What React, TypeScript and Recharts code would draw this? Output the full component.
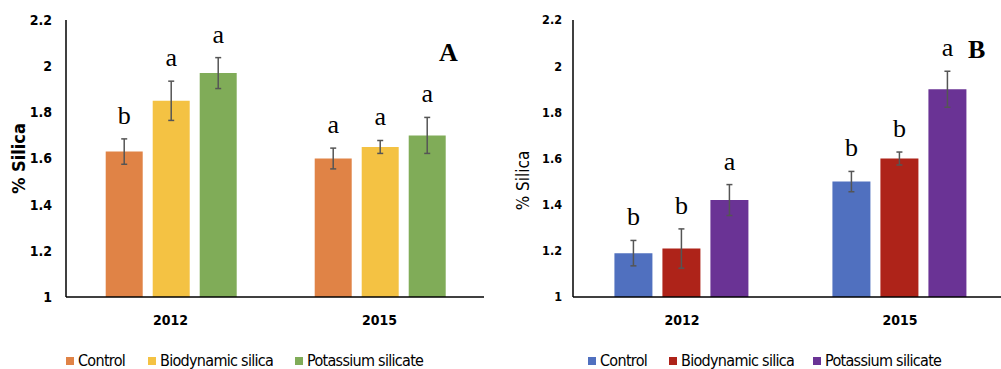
import React from "react";
import { Bar, BarChart, ErrorBar, LabelList, XAxis, YAxis } from "recharts";

// chart values
const years = ["2012", "2015"];
const treatments = ["Control", "Biodynamic silica", "Potassium silicate"];

const silicaA = [
	[1.63, 1.6],
	[1.85, 1.65],
	[1.97, 1.7],
];
const errorsA = [
	[0.055, 0.045],
	[0.085, 0.028],
	[0.067, 0.078],
];
const lettersA = [
	["b", "a"],
	["a", "a"],
	["a", "a"],
];

const silicaB = [
	[1.19, 1.5],
	[1.21, 1.6],
	[1.42, 1.9],
];
const errorsB = [
	[0.055, 0.044],
	[0.085, 0.028],
	[0.067, 0.078],
];
const lettersB = [
	["b", "b"],
	["b", "b"],
	["a", "a"],
];

const yTicks = [1, 1.2, 1.4, 1.6, 1.8, 2, 2.2];

const colorsA = ["#e08346", "#f4c243", "#80ac58"];
const colorsB = ["#5070bf", "#ae2319", "#6a3395"];

const sansFont = "'Liberation Sans Narrow', 'DejaVu Sans Condensed', sans-serif";
const serifFont = "'Liberation Serif', 'DejaVu Serif', serif";

const buildRows = (vals: number[][], errs: number[][], letters: string[][]) =>
	years.map((year, i) => {
		const row: Record<string, string | number> = { year };
		treatments.forEach((_, s) => {
			row[`s${s}`] = vals[s][i];
			row[`s${s}err`] = errs[s][i];
			row[`s${s}letter`] = letters[s][i];
		});
		return row;
	});

const rowsA = buildRows(silicaA, errorsA, lettersA);
const rowsB = buildRows(silicaB, errorsB, lettersB);

// letter sits above the error bar; pixels per unit taken from the bar itself
const letterContent =
	(rows: Record<string, string | number>[], key: string) => (props: any) => {
		const box = props.viewBox ?? props;
		const { x, y, width, height } = box;
		const row = rows[props.index];
		if (!row) return null;
		const v = row[key] as number;
		const err = row[`${key}err`] as number;
		const pxPerUnit = height / (v - yTicks[0]);
		const top = y - err * pxPerUnit;
		return (
			<text
				x={x + width / 2}
				y={top - 15}
				textAnchor="middle"
				fontFamily={serifFont}
				fontSize={26}
				fill="#000"
			>
				{row[`${key}letter`]}
			</text>
		);
	};

const yLabel = (bold: boolean, size: number, dx: number, dy: number) => (props: any) => {
	const vb = props.viewBox;
	const cx = vb.x + dx;
	const cy = vb.y + vb.height / 2 + dy;
	return (
		<text
			x={cx}
			y={cy}
			transform={`rotate(-90 ${cx} ${cy})`}
			textAnchor="middle"
			dominantBaseline="central"
			fontFamily={sansFont}
			fontWeight={bold ? 700 : 400}
			fontSize={size}
			fill="#000"
		>
			% Silica
		</text>
	);
};

interface PanelProps {
	rows: Record<string, string | number>[];
	colors: string[];
	width: number;
	axisWidth: number;
	marginRight: number;
	tickSize: number;
	tickGap: number;
	labelBold: boolean;
	labelSize: number;
	labelDx: number;
	labelDy: number;
}

const Panel: React.FC<PanelProps> = ({
	rows,
	colors,
	width,
	axisWidth,
	marginRight,
	tickSize,
	tickGap,
	labelBold,
	labelSize,
	labelDx,
	labelDy,
}) => (
	<BarChart
		width={width}
		height={369}
		data={rows}
		margin={{ top: 20, right: marginRight, bottom: 42, left: 0 }}
		barCategoryGap="19%"
		barGap={10}
	>
		<XAxis
			dataKey="year"
			height={30}
			tickLine={false}
			tickSize={0}
			tickMargin={18}
			axisLine={{ stroke: "#000", strokeWidth: 1.5 }}
			tick={{ fontFamily: sansFont, fontWeight: 700, fontSize: 14, fill: "#000" }}
		/>
		<XAxis
			xAxisId="top"
			dataKey="year"
			orientation="top"
			height={0}
			tick={false}
			tickLine={false}
			axisLine={{ stroke: "#000", strokeWidth: 1.5 }}
		/>
		<YAxis
			domain={[yTicks[0], yTicks[yTicks.length - 1]]}
			ticks={yTicks}
			width={axisWidth}
			interval={0}
			tickLine={false}
			tickSize={0}
			tickMargin={tickGap}
			axisLine={{ stroke: "#000", strokeWidth: 1.5 }}
			tick={{ fontFamily: sansFont, fontWeight: 700, fontSize: tickSize, fill: "#000" }}
			label={{ content: yLabel(labelBold, labelSize, labelDx, labelDy) }}
		/>
		<YAxis
			yAxisId="right"
			orientation="right"
			width={0}
			tick={false}
			tickLine={false}
			axisLine={{ stroke: "#000", strokeWidth: 1.5 }}
		/>
		{treatments.map((name, s) => (
			<Bar
				key={name}
				dataKey={`s${s}`}
				name={name}
				fill={colors[s]}
				isAnimationActive={false}
			>
				<ErrorBar
					dataKey={`s${s}err`}
					direction="y"
					width={3}
					stroke="#555"
					strokeWidth={1.5}
					isAnimationActive={false}
				/>
				<LabelList dataKey={`s${s}letter`} content={letterContent(rows, `s${s}`)} />
			</Bar>
		))}
	</BarChart>
);

const LegendRow: React.FC<{ colors: string[]; lefts: number[] }> = ({ colors, lefts }) => (
	<>
		{treatments.map((name, s) => (
			<div
				key={name}
				style={{
					position: "absolute",
					left: lefts[s],
					top: 351,
					display: "flex",
					alignItems: "center",
					fontFamily: sansFont,
					fontSize: 16,
					letterSpacing: -0.7,
					lineHeight: "20px",
					color: "#000",
					whiteSpace: "nowrap",
				}}
			>
				<span
					style={{
						display: "inline-block",
						width: 8,
						height: 8,
						background: colors[s],
						marginRight: 4,
					}}
				/>
				{name}
			</div>
		))}
	</>
);

const PanelTag: React.FC<{ text: string; left: number; top: number }> = ({
	text,
	left,
	top,
}) => (
	<div
		style={{
			position: "absolute",
			left,
			top,
			fontFamily: serifFont,
			fontWeight: 700,
			fontSize: 26,
			lineHeight: 1,
			color: "#000",
		}}
	>
		{text}
	</div>
);

export default function App() {
	return (
		<div
			style={{
				position: "relative",
				width: 1001,
				height: 369,
				overflow: "hidden",
				background: "#fff",
			}}
		>
			<style>{"body{margin:0}"}</style>
			<div style={{ position: "absolute", left: 0, top: 0 }}>
				<Panel
					rows={rowsA}
					colors={colorsA}
					width={500}
					axisWidth={66}
					marginRight={16}
					tickSize={14}
					tickGap={14}
					labelBold
					labelSize={18}
					labelDx={18}
					labelDy={0}
				/>
			</div>
			<div style={{ position: "absolute", left: 500, top: 0 }}>
				<Panel
					rows={rowsB}
					colors={colorsB}
					width={520}
					axisWidth={73}
					marginRight={11}
					tickSize={12.5}
					tickGap={11}
					labelBold={false}
					labelSize={17}
					labelDx={23}
					labelDy={22}
				/>
			</div>
			<PanelTag text="A" left={439} top={40} />
			<PanelTag text="B" left={968} top={37} />
			<LegendRow colors={colorsA} lefts={[66, 148, 295]} />
			<LegendRow colors={colorsB} lefts={[588, 669, 813]} />
		</div>
	);
}
